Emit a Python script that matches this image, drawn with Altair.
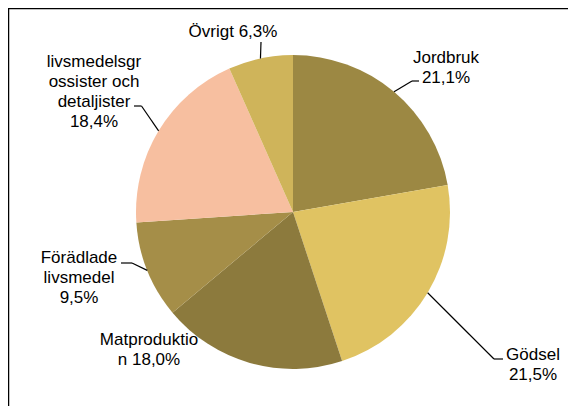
import altair as alt
import pandas as pd
import numpy as np

# ---- data ----
categories = ["Jordbruk", "Gödsel", "Matproduktion", "Förädlade livsmedel",
              "livsmedelsgrossister och detaljister", "Övrigt"]
values = [21.1, 21.5, 18.0, 9.5, 18.4, 6.3]
label_lines = [["Jordbruk", "{p}"], ["Gödsel", "{p}"], ["Matproduktio", "n {p}"],
               ["Förädlade", "livsmedel", "{p}"],
               ["livsmedelsgr", "ossister och", "detaljister", "{p}"],
               ["Övrigt {p}"]]
colors = ["#9C8843", "#E0C362", "#8C7A3D", "#A58E48", "#F7BFA0", "#CFB45A"]

# ---- layout (pixels in chart coordinates) ----
W, H = 560, 398
CX, CY, R = 285, 204, 157
label_pos = {  # centre of the first label line
    "Jordbruk": (438, 50), "Gödsel": (525, 347), "Matproduktion": (141, 332),
    "Förädlade livsmedel": (71, 250), "livsmedelsgrossister och detaljister": (86, 54),
    "Övrigt": (225, 24)}
leader = {  # elbow, end
    "Jordbruk": [(404, 73), (411, 73)],
    "Gödsel": [(486, 351), (495, 351)],
    "Förädlade livsmedel": [(124, 255), (113, 255)],
    "livsmedelsgrossister och detaljister": [(133.5, 98), (126, 98)],
    "Övrigt": [(253, 34), (253, 34)]}

total = sum(values)
df = pd.DataFrame({"cat": categories, "value": values, "idx": range(len(values))})
cum = np.cumsum(values)
mid = (cum - np.array(values) / 2) / total * 2 * np.pi
df["ex"] = CX + R * np.sin(mid)
df["ey"] = CY - R * np.cos(mid)
df["label"] = [[ln.replace("{p}", f"{v:.1f}".replace(".", ",") + "%") for ln in lines]
               for lines, v in zip(label_lines, values)]
df["lx"] = [label_pos[c][0] for c in categories]
df["ly"] = [label_pos[c][1] for c in categories]

seg_rows = []
for c, ex, ey in zip(df["cat"], df["ex"], df["ey"]):
    if c in leader:
        (bx, by), (tx, ty) = leader[c]
        seg_rows.append({"x": ex, "y": ey, "x2": bx, "y2": by})
        seg_rows.append({"x": bx, "y": by, "x2": tx, "y2": ty})
segs = pd.DataFrame(seg_rows)

pie = alt.Chart(df).mark_arc(outerRadius=R, stroke=None).encode(
    theta=alt.Theta("value:Q", stack=True),
    color=alt.Color("cat:N", scale=alt.Scale(domain=categories, range=colors), legend=None),
    order=alt.Order("idx:Q"),
    x=alt.value(CX), y=alt.value(CY),
)

lines = alt.Chart(segs).mark_rule(color="#000000", strokeWidth=1.2).encode(
    x=alt.X("x:Q", scale=None), y=alt.Y("y:Q", scale=None),
    x2="x2:Q", y2="y2:Q")

labels = alt.Chart(df).mark_text(font="Liberation Sans", fontSize=17, color="#000000",
                                 align="center", baseline="middle", lineHeight=20).encode(
    x=alt.X("lx:Q", scale=None), y=alt.Y("ly:Q", scale=None), text="label")

frame = alt.Chart(pd.DataFrame({"a": [0]})).mark_rule(color="#000000", strokeWidth=1.5).encode(
    x=alt.value(0.5), y=alt.value(0), y2=alt.value(H))
frame_top = alt.Chart(pd.DataFrame({"a": [0]})).mark_rule(color="#000000", strokeWidth=1.5).encode(
    x=alt.value(0), x2=alt.value(W), y=alt.value(0.5))

chart = alt.layer(pie, lines, labels, frame, frame_top).properties(
    width=W, height=H, autosize=alt.AutoSizeParams(type="none"), padding=0,
    background="#FFFFFF"
).configure_view(stroke=None)

chart.save("out.html", embed_options={"renderer": "svg", "actions": False})
